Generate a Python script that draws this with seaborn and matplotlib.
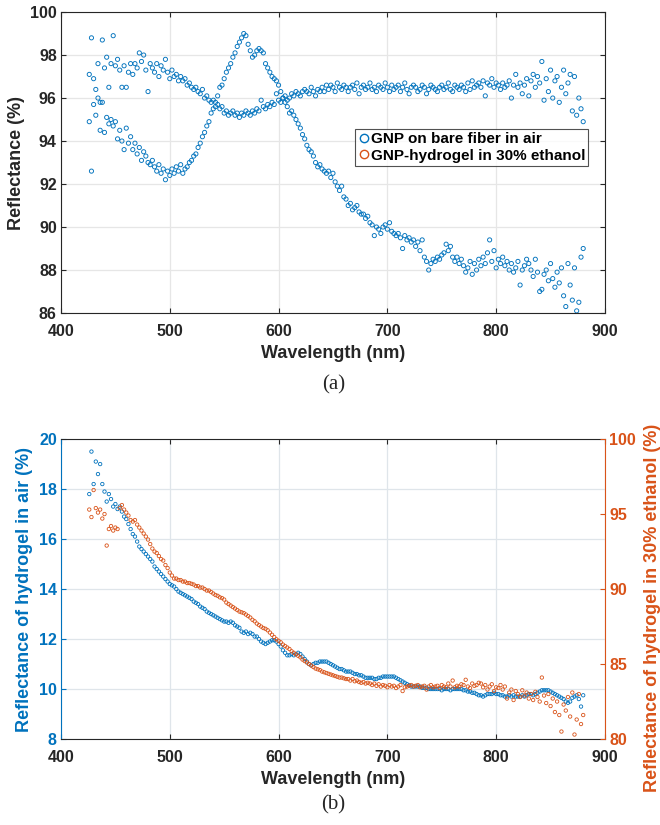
import numpy as np
import pandas as pd
import matplotlib
matplotlib.use("Agg")
import matplotlib.pyplot as plt
from matplotlib.lines import Line2D
import seaborn as sns

sns.set_theme(style="ticks")
plt.rcParams["font.family"] = ["Liberation Sans", "DejaVu Sans"]
plt.rcParams["font.weight"] = "bold"
plt.rcParams["axes.labelweight"] = "bold"

# sampling grid of the spectrometer (nm)
wavelength = np.arange(426, 882, 2)

# (a) GNP on bare fiber in air (%)
gnp_air = [
    97.1, 98.8, 96.9, 96.4, 97.6, 95.8, 98.7, 97.4, 97.9, 96.5,
    97.6, 98.9, 97.5, 97.8, 97.3, 96.5, 97.5, 96.5, 97.2, 97.6,
    97.1, 97.6, 97.4, 98.1, 97.7, 98.0, 97.3, 96.3, 97.6, 97.4,
    97.2, 97.6, 97.0, 97.5, 97.3, 97.8, 97.2, 96.9, 97.3, 97.0,
    97.1, 96.8, 97.0, 96.8, 96.9, 96.6, 96.7, 96.5, 96.4, 96.5,
    96.3, 96.2, 96.4, 96.0, 96.1, 95.9, 95.8, 95.9, 95.6, 95.7,
    95.5, 95.6, 95.3, 95.4, 95.2, 95.3, 95.4, 95.2, 95.3, 95.1,
    95.3, 95.2, 95.4, 95.3, 95.2, 95.4, 95.3, 95.5, 95.4, 95.9,
    95.6, 95.5, 95.7, 95.6, 95.8, 95.7, 96.2, 95.9, 95.8, 96.0,
    96.1, 95.9, 96.0, 96.2, 96.1, 96.3, 96.2, 96.1, 96.3, 96.4,
    96.3, 96.2, 96.5, 96.3, 96.1, 96.4, 96.3, 96.5, 96.3, 96.6,
    96.4, 96.6, 96.5, 96.3, 96.7, 96.5, 96.4, 96.6, 96.5, 96.3,
    96.5, 96.6, 96.4, 96.7, 96.2, 96.5, 96.6, 96.4, 96.5, 96.7,
    96.4, 96.5, 96.3, 96.6, 96.5, 96.4, 96.7, 96.5, 96.3, 96.6,
    96.4, 96.5, 96.6, 96.3, 96.5, 96.7, 96.4, 96.2, 96.5, 96.6,
    96.5, 96.3, 96.4, 96.6, 96.5, 96.2, 96.4, 96.6, 96.5, 96.4,
    96.3, 96.5, 96.6, 96.4, 96.5, 96.7, 96.4, 96.3, 96.6, 96.5,
    96.4, 96.6, 96.5, 96.3, 96.7, 96.4, 96.8, 96.5, 96.6, 96.7,
    96.5, 96.8, 96.1, 96.7, 96.6, 96.9, 96.5, 96.7, 96.6, 96.4,
    96.7, 96.5, 96.6, 96.8, 96.0, 96.6, 97.1, 96.5, 96.7, 96.2,
    96.6, 96.9, 96.1, 96.8, 97.1, 96.5, 97.0, 96.7, 97.7, 95.9,
    96.9, 96.3, 97.3, 96.0, 96.8, 97.0, 95.8, 96.5, 97.3, 96.2,
    96.7, 97.1, 95.4, 97.0, 95.2, 96.0, 95.5, 94.9,
]

# (a) GNP-hydrogel in 30% ethanol (%)
gnp_ethanol = [
    94.9, 92.6, 95.7, 95.2, 96.0, 94.5, 95.8, 94.4, 95.1, 94.8,
    95.0, 94.7, 94.9, 94.1, 94.5, 94.0, 93.6, 94.6, 93.9, 94.2,
    93.6, 93.9, 93.4, 93.7, 93.1, 93.5, 93.3, 93.0, 92.9, 93.1,
    92.8, 92.6, 92.9, 92.5, 92.7, 92.2, 92.6, 92.4, 92.7, 92.5,
    92.8, 92.6, 92.9, 92.5, 92.7, 92.8, 93.0, 93.1, 93.3, 93.4,
    93.7, 93.9, 94.2, 94.4, 94.7, 94.9, 95.3, 95.5, 95.8, 96.1,
    96.5, 96.6, 96.9, 97.2, 97.4, 97.6, 97.9, 98.1, 98.4, 98.6,
    98.8, 99.0, 98.9, 98.5, 98.2, 97.9, 98.0, 98.2, 98.3, 98.2,
    98.1, 97.6, 97.4, 97.2, 97.0, 96.9, 96.8, 96.6, 96.3, 96.0,
    95.8, 95.6, 95.3, 95.4, 95.2, 95.0, 94.8, 94.6, 94.3, 94.1,
    93.8, 93.6, 93.5, 93.3, 93.0, 92.8, 92.9, 92.7, 92.6, 92.5,
    92.6, 92.3, 92.5, 92.1, 91.9, 91.7, 91.9, 91.4, 91.3, 91.0,
    91.1, 90.8, 90.9, 91.0, 90.7, 90.6, 90.6, 90.4, 90.5, 90.2,
    90.1, 89.6, 90.0, 89.9, 89.7, 90.0, 90.1, 89.9, 90.2, 89.8,
    89.7, 89.6, 89.7, 89.5, 89.0, 89.6, 89.4, 89.5, 89.3, 89.4,
    89.1, 89.3, 88.9, 89.4, 88.6, 88.4, 88.0, 88.3, 88.5, 88.4,
    88.6, 88.5, 88.7, 88.8, 89.2, 88.9, 89.1, 88.6, 88.4, 88.6,
    88.3, 88.5, 88.2, 87.9, 88.1, 88.4, 87.8, 88.3, 88.0, 88.5,
    88.2, 88.6, 88.3, 88.8, 89.4, 88.4, 88.9, 88.1, 88.5, 88.3,
    88.6, 88.2, 88.4, 88.0, 88.3, 87.9, 88.1, 88.4, 87.3, 88.0,
    88.2, 88.5, 88.3, 88.0, 87.7, 88.5, 87.9, 87.0, 87.1, 87.8,
    88.0, 87.5, 88.3, 87.6, 87.2, 87.9, 87.4, 88.1, 86.8, 86.3,
    88.3, 87.3, 86.6, 88.1, 86.1, 86.5, 88.6, 89.0,
]

# (b) hydrogel in air (%), left axis
hydrogel_air = [
    17.8, 19.5, 18.2, 19.1, 18.6, 19.0, 18.2, 17.9, 17.5, 17.8,
    17.6, 17.3, 17.4, 17.2, 17.3, 17.1, 16.9, 16.8, 16.6, 16.4,
    16.2, 16.1, 15.9, 15.7, 15.6, 15.5, 15.4, 15.3, 15.2, 15.1,
    14.9, 14.8, 14.7, 14.6, 14.5, 14.4, 14.3, 14.2, 14.15, 14.1,
    14.0, 13.9, 13.85, 13.8, 13.75, 13.7, 13.65, 13.6, 13.5, 13.45,
    13.4, 13.3, 13.25, 13.2, 13.1, 13.05, 13.0, 12.95, 12.9, 12.85,
    12.8, 12.75, 12.7, 12.7, 12.65, 12.7, 12.65, 12.55, 12.5, 12.45,
    12.3, 12.25, 12.3, 12.2, 12.25, 12.2, 12.1, 12.1, 12.0, 11.9,
    11.85, 11.8, 11.85, 11.9, 11.95, 11.95, 11.9, 11.8, 11.7, 11.55,
    11.45, 11.35, 11.35, 11.4, 11.35, 11.4, 11.45, 11.4, 11.3, 11.2,
    11.1, 11.0, 10.95, 11.0, 11.05, 11.05, 11.1, 11.1, 11.1, 11.1,
    11.05, 11.0, 10.95, 10.9, 10.85, 10.8, 10.8, 10.75, 10.7, 10.7,
    10.7, 10.65, 10.6, 10.6, 10.55, 10.55, 10.5, 10.45, 10.45, 10.45,
    10.45, 10.4, 10.4, 10.45, 10.45, 10.5, 10.5, 10.5, 10.5, 10.5,
    10.5, 10.45, 10.4, 10.35, 10.3, 10.25, 10.2, 10.15, 10.1, 10.1,
    10.1, 10.1, 10.1, 10.05, 10.05, 10.05, 10.0, 10.0, 10.0, 10.0,
    10.0, 10.0, 9.95, 10.0, 10.0, 10.0, 9.95, 10.0, 10.0, 10.0,
    10.0, 10.0, 9.95, 9.95, 9.9, 9.9, 9.85, 9.85, 9.8, 9.75,
    9.75, 9.7, 9.75, 9.8, 9.8, 9.8, 9.85, 9.8, 9.8, 9.75,
    9.75, 9.7, 9.7, 9.75, 9.7, 9.75, 9.7, 9.7, 9.7, 9.75,
    9.7, 9.75, 9.8, 9.8, 9.75, 9.8, 9.85, 9.9, 9.95, 9.95,
    9.95, 9.95, 9.9, 9.85, 9.8, 9.75, 9.7, 9.65, 9.6, 9.5,
    9.45, 9.5, 9.65, 9.7, 9.75, 9.6, 9.3, 9.75,
]

# (b) hydrogel in 30% ethanol (%), right axis
hydrogel_ethanol = [
    95.3, 94.8, 96.6, 95.4, 95.1, 95.3, 94.7, 95.0, 92.9, 94.0,
    94.2, 93.9, 94.1, 94.0, 95.4, 95.6, 95.3, 95.1, 94.9, 94.6,
    94.5, 94.6, 94.3, 94.1, 93.9, 93.7, 93.5, 93.3, 93.0, 92.7,
    92.5, 92.4, 92.2, 92.0, 91.9, 91.6, 91.4, 91.1, 90.9, 90.7,
    90.7, 90.6, 90.6, 90.5, 90.5, 90.4, 90.4, 90.35, 90.3, 90.2,
    90.2, 90.1, 90.1, 90.0, 89.9, 89.9, 89.8, 89.7, 89.6, 89.55,
    89.45, 89.4, 89.3, 89.1, 89.0, 88.9, 88.8, 88.7, 88.6, 88.5,
    88.45, 88.4, 88.3, 88.2, 88.1, 87.95, 87.85, 87.7, 87.6, 87.5,
    87.4, 87.35, 87.25, 87.1, 86.95, 86.8, 86.65, 86.55, 86.45, 86.3,
    86.2, 86.1, 86.0, 85.85, 85.75, 85.65, 85.55, 85.45, 85.3, 85.2,
    85.1, 85.0, 84.9, 84.8, 84.7, 84.65, 84.6, 84.5, 84.45, 84.4,
    84.35, 84.3, 84.25, 84.2, 84.15, 84.1, 84.1, 84.05, 84.0, 84.0,
    83.9, 84.0, 83.85, 83.9, 83.8, 83.75, 83.8, 83.7, 83.75, 83.7,
    83.6, 83.7, 83.55, 83.65, 83.5, 83.6, 83.55, 83.45, 83.6, 83.5,
    83.55, 83.4, 83.5, 83.6, 83.2, 83.45, 83.5, 83.55, 83.6, 83.5,
    83.55, 83.6, 83.45, 83.5, 83.55, 83.3, 83.5, 83.6, 83.45, 83.5,
    83.55, 83.4, 83.6, 83.5, 83.45, 83.7, 83.5, 83.9, 83.45, 83.55,
    83.5, 83.65, 83.6, 83.95, 83.5, 83.4, 83.7, 83.55, 83.6, 83.75,
    83.7, 83.45, 83.6, 83.3, 83.5, 83.65, 83.2, 83.45, 83.4, 83.6,
    83.3, 83.5, 82.7, 83.1, 83.3, 82.6, 83.2, 83.0, 82.8, 83.25,
    82.9, 83.1, 82.7, 83.0, 82.6, 83.15, 82.8, 82.5, 84.1, 82.9,
    82.4, 83.0, 82.2, 82.7, 81.8, 82.5, 81.6, 80.5, 82.3, 81.9,
    82.8, 81.5, 83.1, 80.3, 81.3, 83.0, 81.0, 81.6,
]

blue = "#0072BD"
orange = "#D95319"
dark = "#262626"
labels_a = ["GNP on bare fiber in air", "GNP-hydrogel in 30% ethanol"]

df_a = pd.DataFrame({"wl": np.concatenate([wavelength, wavelength]),
                     "R": gnp_air + gnp_ethanol,
                     "sample": [labels_a[0]] * len(wavelength) + [labels_a[1]] * len(wavelength)})
df_b = pd.DataFrame({"wl": wavelength, "air": hydrogel_air, "ethanol": hydrogel_ethanol})

fig = plt.figure(figsize=(6.6, 8.25), dpi=100)


def style_axis(ax, grid_color):
    ax.set_xlim(400, 900)
    ax.set_xticks([400, 500, 600, 700, 800, 900])
    ax.grid(True, color=grid_color, linewidth=0.9)
    ax.set_axisbelow(True)
    ax.tick_params(direction="in", length=3.5, width=0.8, labelsize=11.5, colors=dark, pad=3)
    ax.tick_params(axis="x", pad=8)
    for s in ax.spines.values():
        s.set_color(dark)
        s.set_linewidth(0.8)
    ax.set_xlabel("Wavelength (nm)", fontsize=13, color=dark, labelpad=4)


# ---- (a)
ax1 = fig.add_axes([0.0924, 0.6206, 0.8242, 0.3648])
sns.scatterplot(data=df_a, x="wl", y="R", hue="sample", hue_order=labels_a,
                palette=[blue, orange], s=9, marker="o", facecolor="none",
                linewidth=0.65, legend=False, ax=ax1)
for coll, c in zip(ax1.collections, [blue, orange]):
    coll.set_facecolor("none")
    coll.set_edgecolor(c)
style_axis(ax1, "#e6e6e6")
ax1.set_ylim(86, 100)
ax1.set_yticks(range(86, 101, 2))
ax1.tick_params(top=True, right=True)
ax1.set_ylabel("Reflectance (%)", fontsize=13, color=dark)

handles = [Line2D([], [], ls="", marker="o", mfc="none", mec=c, ms=6, mew=1.0) for c in [blue, orange]]
leg = ax1.legend(handles, labels_a, loc="upper left", bbox_to_anchor=(0.54, 0.61),
                 fontsize=11, frameon=True, fancybox=False, borderpad=0.2,
                 handletextpad=0.05, handlelength=0.8, labelspacing=0.15, borderaxespad=0)
leg.get_frame().set_edgecolor(dark)
leg.get_frame().set_linewidth(0.8)
for t in leg.get_texts():
    t.set_fontweight("bold")
    t.set_color("black")

fig.text(0.505, 0.5335, "(a)", ha="center", va="center", fontsize=15,
         family=["Liberation Serif", "DejaVu Serif"], fontweight="normal")

# ---- (b)
ax2 = fig.add_axes([0.0924, 0.1042, 0.8242, 0.3636])
sns.scatterplot(data=df_b, x="wl", y="air", s=6, marker="o", color=blue,
                facecolor="none", edgecolor=blue, linewidth=0.6, ax=ax2)
style_axis(ax2, "#dfe5ea")
ax2.set_ylim(8, 20)
ax2.set_yticks(range(8, 21, 2))
ax2.tick_params(top=True)
ax2.tick_params(axis="y", colors=blue)
ax2.spines["left"].set_color(blue)
ax2.spines["right"].set_visible(False)
ax2.set_ylabel("Reflectance of hydrogel in air (%)", fontsize=13, color=blue)

ax3 = ax2.twinx()
sns.scatterplot(data=df_b, x="wl", y="ethanol", s=6, marker="o", color=orange,
                facecolor="none", edgecolor=orange, linewidth=0.6, ax=ax3)
ax3.set_ylim(80, 100)
ax3.set_yticks(range(80, 101, 5))
ax3.tick_params(axis="y", direction="in", length=3.5, width=0.8, labelsize=11.5, colors=orange, pad=3)
for side in ["left", "top", "bottom"]:
    ax3.spines[side].set_visible(False)
ax3.spines["right"].set_color(orange)
ax3.spines["right"].set_linewidth(0.8)
ax3.set_ylabel("Reflectance of hydrogel in 30% ethanol (%)", fontsize=13, color=orange)
ax3.yaxis.set_label_coords(1.072, 0.437)

fig.text(0.505, 0.0242, "(b)", ha="center", va="center", fontsize=15,
         family=["Liberation Serif", "DejaVu Serif"], fontweight="normal")

fig.savefig("out.png", dpi=100, facecolor="white")
